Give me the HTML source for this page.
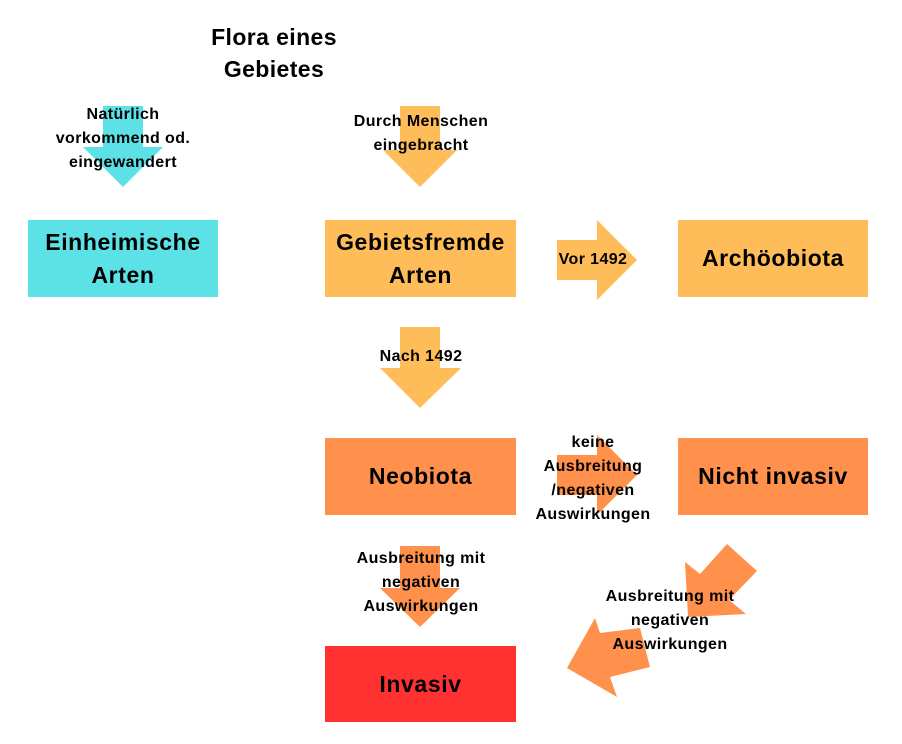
<!DOCTYPE html>
<html><head><meta charset="utf-8"><style>
body{margin:0;width:902px;height:744px;background:#fff;overflow:hidden;font-family:"Liberation Sans",sans-serif;}
svg{position:absolute;left:0;top:0}
.b{position:absolute;display:flex;align-items:center;justify-content:center;text-align:center;font-weight:bold;font-size:23px;letter-spacing:0.6px;line-height:33px;color:#000}
.l{position:absolute;text-align:center;font-weight:bold;font-size:16px;letter-spacing:0.4px;line-height:24px;color:#000;transform:translateX(-50%);white-space:nowrap}
</style></head><body>
<svg width="902" height="744">
<polygon points="103,106 143,106 143,147 163,147 123,187 83,147 103,147" fill="#5CE1E6"/>
<polygon points="400,106 440,106 440,150 457,150 420,187 383,150 400,150" fill="#FFBD59"/>
<polygon points="400,327 440,327 440,368 461,368 420,408 380,368 400,368" fill="#FFBD59"/>
<polygon points="557,240 597,240 597,220 637,260 597,300 597,280 557,280" fill="#FFBD59"/>
<polygon points="557,455 597,455 597,435 637,475 597,515 597,495 557,495" fill="#FF914D"/>
<polygon points="400,546 440,546 440,588 460,588 420,627 380,588 400,588" fill="#FF914D"/>
<polygon points="727,544 757,571 729,600 746,614 688,617 685,562 700,574" fill="#FF914D"/>
<polygon points="567,668 595,618 600,633 640,628 650,667 610,677 617,697" fill="#FF914D"/>
</svg>
<div class="l" style="left:274px;top:21px;font-size:23px;line-height:32px">Flora eines<br>Gebietes</div>
<div class="b" style="left:28px;top:220px;width:190px;height:77px;background:#5CE1E6">Einheimische<br>Arten</div>
<div class="b" style="left:325px;top:220px;width:191px;height:77px;background:#FFBD59">Gebietsfremde<br>Arten</div>
<div class="b" style="left:678px;top:220px;width:190px;height:77px;background:#FFBD59">Archöobiota</div>
<div class="b" style="left:325px;top:438px;width:191px;height:77px;background:#FF914D">Neobiota</div>
<div class="b" style="left:678px;top:438px;width:190px;height:77px;background:#FF914D">Nicht invasiv</div>
<div class="b" style="left:325px;top:646px;width:191px;height:76px;background:#FF3131">Invasiv</div>
<div class="l" style="left:123px;top:103px">Natürlich<br>vorkommend od.<br>eingewandert</div>
<div class="l" style="left:421px;top:110px">Durch Menschen<br>eingebracht</div>
<div class="l" style="left:593px;top:248px">Vor 1492</div>
<div class="l" style="left:421px;top:345px">Nach 1492</div>
<div class="l" style="left:593px;top:431px">keine<br>Ausbreitung<br>/negativen<br>Auswirkungen</div>
<div class="l" style="left:421px;top:547px">Ausbreitung mit<br>negativen<br>Auswirkungen</div>
<div class="l" style="left:670px;top:585px">Ausbreitung mit<br>negativen<br>Auswirkungen</div>
</body></html>
